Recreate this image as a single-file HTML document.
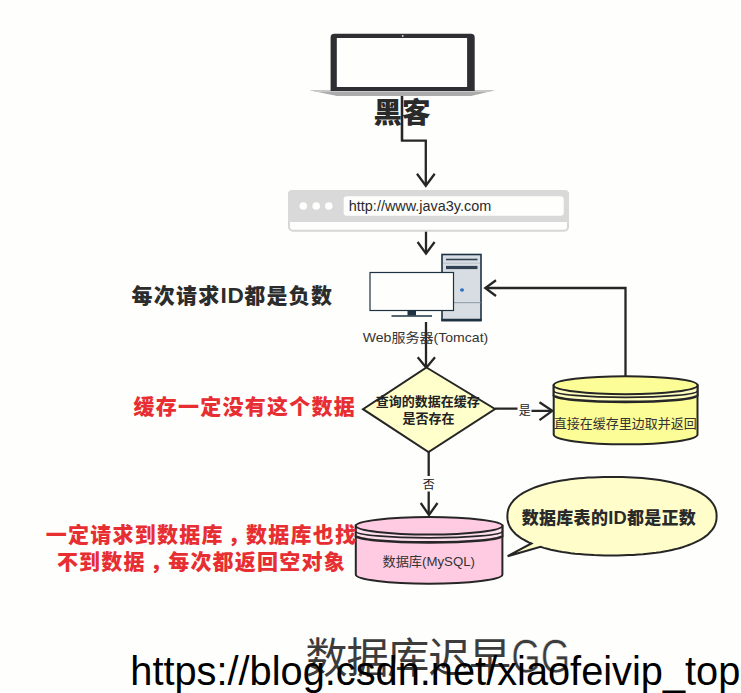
<!DOCTYPE html>
<html lang="zh-CN">
<head>
<meta charset="utf-8">
<title>缓存穿透</title>
<style>
html,body{margin:0;padding:0;background:#fefefc;}
body{width:741px;height:693px;overflow:hidden;position:relative;}
svg{position:absolute;left:0;top:0;display:block;}
text{font-family:"Liberation Sans","Noto Sans CJK SC",sans-serif;}
.ln{fill:none;stroke:#262626;stroke-width:2.300;stroke-linecap:butt;stroke-linejoin:miter;}
.big{font-size:21px;font-weight:900;letter-spacing:1.250px;}
.sm{font-size:13px;fill:#333;}
</style>
</head>
<body>
<svg width="741" height="693" viewBox="0 0 741 693">
<rect width="741" height="693" fill="#fefefc"/>

<!-- connectors -->
<path class="ln" d="M402 95V140.600H425.800V185"/>
<path class="ln" d="M417 173.700L425.800 185.700L434.700 173.700"/>
<path class="ln" d="M426 231V253"/>
<path class="ln" d="M417.600 242L426 253.600L434.600 242"/>
<path class="ln" d="M426 322V366"/>
<path class="ln" d="M417.700 357.300L426.300 367.800L435 357.300"/>
<path class="ln" d="M495 408.700H517.500M531.500 410.900H552"/>
<path class="ln" d="M539.500 402.300L552.300 410.900L539.500 420.100"/>
<path class="ln" d="M625.500 376V288H486"/>
<path class="ln" d="M496 280.300L485.300 288L496 296"/>
<path class="ln" d="M428.700 452V476M428.700 491.500V514"/>
<path class="ln" d="M420.700 503L429 515L437.500 503"/>

<!-- laptop -->
<g id="laptop">
<path d="M309.500 90.300H495L471 96H337Z" fill="#ababab"/>
<path d="M309.500 90.300H495L488 92H318Z" fill="#c9c9c9"/>
<path d="M330.600 91V37.500a3.700 3.700 0 0 1 3.700-3.700H471a3.700 3.700 0 0 1 3.700 3.700V91Z" fill="#2e2e33"/>
<rect x="336.800" y="38" width="130.300" height="49" fill="#fefefc"/>
<circle cx="402.700" cy="35.900" r="0.900" fill="#e4e4e4"/>
</g>
<text x="402" y="123.300" text-anchor="middle" font-size="28.500" font-weight="900" fill="#2a2a2a">黑客</text>
<path class="ln" d="M402 96V140.600"/>

<!-- browser bar -->
<g id="browser">
<rect x="289" y="191" width="279" height="39.700" rx="4" fill="#fefefc" stroke="#d6d6d6" stroke-width="2"/>
<path d="M288 194.500a4 4 0 0 1 4-4.500h273a4 4 0 0 1 4 4.500V222H288Z" fill="#d9d9d9"/>
<rect x="343.700" y="196.300" width="220" height="19.500" rx="3" fill="#fefefc"/>
<circle cx="303.300" cy="206" r="3.800" fill="#fefefc"/>
<circle cx="316.200" cy="206" r="3.800" fill="#fefefc"/>
<circle cx="328.800" cy="206" r="3.800" fill="#fefefc"/>
<text x="348.800" y="211.300" font-size="14" fill="#2a2a2a" textLength="142.500" lengthAdjust="spacingAndGlyphs">http://www.java3y.com</text>
</g>

<!-- server -->
<g id="server">
<rect x="442" y="254.500" width="39" height="66" fill="#d7dde3" stroke="#1d3344" stroke-width="1.600"/>
<path d="M443 263.200H480" stroke="#b4bcc5" stroke-width="0.800"/>
<path d="M441.500 320H481.500" stroke="#1d3344" stroke-width="2.600"/>
<path d="M446 259.500H477.500" stroke="#2f4152" stroke-width="1.600"/>
<path d="M446 267.500H477.500" stroke="#2f4152" stroke-width="3.200"/>
<path d="M442 302.700H481" stroke="#7a8896" stroke-width="0.800"/>
<ellipse cx="462" cy="290" rx="2" ry="1.700" fill="#2f6fc4"/>
<rect x="370" y="272.500" width="83.500" height="38" fill="#fefefc" stroke="#1d3344" stroke-width="1.200"/>
<rect x="407.500" y="310.500" width="8.500" height="5" fill="#1d3344"/>
<path d="M391.500 316H432" stroke="#1d3344" stroke-width="1.300"/>
</g>
<text x="425.500" y="342" text-anchor="middle" class="sm" textLength="125.500" lengthAdjust="spacingAndGlyphs">Web服务器(Tomcat)</text>


<!-- decision diamond -->
<path d="M426.500 367.500L495 409L428.500 452L363 409.200Z" fill="#ffffcc" stroke="#262626" stroke-width="2" stroke-linejoin="miter"/>
<text x="427.700" y="406" text-anchor="middle" font-size="13" font-weight="700" fill="#222">查询的数据在缓存</text>
<text x="428.500" y="422.500" text-anchor="middle" font-size="13" font-weight="700" fill="#222">是否存在</text>
<text x="524.700" y="415" text-anchor="middle" font-size="12" fill="#222">是</text>
<text x="428.700" y="489" text-anchor="middle" font-size="12" fill="#222">否</text>

<!-- cache cylinder -->
<g id="cache">
<path d="M553.700 385.200V434.500a71.900 9.800 0 0 0 143.800 0V385.200Z" fill="#fcfd96" stroke="#262626" stroke-width="2"/>
<path d="M553.700 385.200a71.900 9 0 0 0 143.800 0V395.300a71.900 6.600 0 0 1 -143.800 0Z" fill="#fefec0"/>
<path d="M553.700 395.300a71.900 6.600 0 0 0 143.800 0" fill="none" stroke="#262626" stroke-width="2.600"/>
<path d="M553.700 390.700a71.900 6.700 0 0 0 143.800 0" fill="none" stroke="#262626" stroke-width="1.700"/>
<path d="M553.700 385.200V396M697.500 385.200V396" fill="none" stroke="#262626" stroke-width="2"/>
<ellipse cx="625.600" cy="385.200" rx="71.900" ry="9" fill="#fcfd96" stroke="#262626" stroke-width="2"/>
<text x="625.200" y="428" text-anchor="middle" class="sm" fill="#222">直接在缓存里边取并返回</text>
</g>

<!-- mysql cylinder -->
<g id="mysql">
<path d="M355.800 525.500V574.500a73.300 9.200 0 0 0 146.600 0V525.500Z" fill="#ffcbe2" stroke="#262626" stroke-width="2"/>
<path d="M355.800 525.500a73.300 9 0 0 0 146.600 0V535.800a73.300 6.600 0 0 1 -146.600 0Z" fill="#ffdfee"/>
<path d="M355.800 535.800a73.300 6.600 0 0 0 146.600 0" fill="none" stroke="#262626" stroke-width="2.600"/>
<path d="M355.800 531.200a73.300 6.700 0 0 0 146.600 0" fill="none" stroke="#262626" stroke-width="1.700"/>
<path d="M355.800 525.500V536.500M502.400 525.500V536.500" fill="none" stroke="#262626" stroke-width="2"/>
<ellipse cx="429.100" cy="525.800" rx="73.300" ry="8.700" fill="#ffcbe2" stroke="#262626" stroke-width="2"/>
<text x="428.700" y="566" text-anchor="middle" class="sm" textLength="92.500" lengthAdjust="spacingAndGlyphs">数据库(MySQL)</text>
</g>

<!-- speech bubble -->
<g id="bubble">
<path d="M531.4 543.5L528.7 542.3L526.1 541.0L523.7 539.7L521.4 538.3L519.3 536.9L517.3 535.4L515.6 533.9L514.0 532.3L512.5 530.7L511.3 529.1L510.2 527.4L509.3 525.6L508.6 523.8L508.0 521.9L507.6 519.9L507.4 517.7L507.4 515.1L507.6 512.9L507.9 510.9L508.4 509.0L509.1 507.1L510.0 505.4L511.1 503.6L512.3 502.0L513.7 500.3L515.3 498.8L517.0 497.2L518.9 495.8L521.0 494.3L523.2 492.9L525.6 491.6L528.2 490.3L530.9 489.1L533.7 487.9L536.8 486.8L539.9 485.7L543.2 484.7L546.6 483.8L550.2 482.9L553.9 482.0L557.7 481.3L561.7 480.6L565.8 479.9L570.0 479.3L574.3 478.8L578.8 478.3L583.4 478.0L588.1 477.6L593.1 477.4L598.2 477.2L603.6 477.1L609.5 477.0L616.5 477.0L622.2 477.1L627.5 477.2L632.5 477.4L637.4 477.7L642.1 478.1L646.6 478.5L651.1 479.0L655.4 479.5L659.5 480.1L663.6 480.8L667.5 481.5L671.3 482.3L674.9 483.2L678.5 484.1L681.9 485.0L685.1 486.1L688.2 487.2L691.2 488.3L694.0 489.5L696.6 490.7L699.1 492.0L701.5 493.4L703.7 494.8L705.7 496.2L707.6 497.7L709.2 499.3L710.8 500.9L712.1 502.5L713.3 504.2L714.3 505.9L715.1 507.7L715.7 509.6L716.2 511.5L716.5 513.6L716.6 515.9L716.5 518.4L716.3 520.5L715.8 522.5L715.2 524.4L714.4 526.2L713.5 527.9L712.3 529.6L711.0 531.2L709.5 532.8L707.9 534.4L706.1 535.9L704.1 537.4L701.9 538.8L699.6 540.1L697.1 541.4L694.5 542.7L691.7 543.9L688.8 545.0L685.7 546.1L682.5 547.2L679.1 548.2L675.6 549.1L672.0 549.9L668.2 550.8L664.3 551.5L660.3 552.2L656.1 552.8L651.9 553.3L647.5 553.8L642.9 554.3L638.3 554.6L633.4 554.9L628.4 555.1L623.2 555.3L617.6 555.4L610.7 555.4L604.6 555.4L599.1 555.2L594.0 555.1L589.0 554.8L584.3 554.5L579.6 554.1L575.1 553.7L570.8 553.2L566.5 552.6L562.4 552.0L558.4 551.3L554.6 550.5L550.9 549.7L547.3 548.8L543.8 547.9L540.5 546.9L507.6 556.2Z" fill="#fffdca" stroke="#262626" stroke-width="2" stroke-linejoin="miter"/>
<text x="521.700" y="524.300" font-size="17" font-weight="900" fill="#2a2a2a" letter-spacing="0.300">数据库表的<tspan font-size="18.300" letter-spacing="0.250">ID</tspan>都是正数</text>
</g>

<!-- annotations -->
<text x="131.500" y="303" class="big" fill="#2c2c2c">每次请求<tspan font-size="22.600" letter-spacing="0.600">ID</tspan>都是负数</text>
<text x="133.500" y="413.500" class="big" fill="#e72e33">缓存一定没有这个数据</text>
<text x="201.500" y="541.700" text-anchor="middle" class="big" fill="#e72e33">一定请求到数据库<tspan dx="4">，</tspan><tspan dx="-4">数</tspan>据库也找</text>
<text x="201.500" y="569" text-anchor="middle" class="big" fill="#e72e33">不到数据<tspan dx="4">，</tspan><tspan dx="-4">每</tspan>次都返回空对象</text>

<!-- title + watermark -->
<text x="305.500" y="672.500" font-size="42" font-weight="400" fill="#3c3c3c" letter-spacing="-1.100">数据库迟早<tspan x="511.200" font-size="47.500" letter-spacing="0" stroke="#fefefc" stroke-width="0.600" textLength="59" lengthAdjust="spacingAndGlyphs">GG</tspan></text>
<text x="130.300" y="685.200" font-size="41" fill="#000" textLength="610" lengthAdjust="spacingAndGlyphs">https://blog.csdn.net/xiaofeivip_top</text>
</svg>
</body>
</html>
